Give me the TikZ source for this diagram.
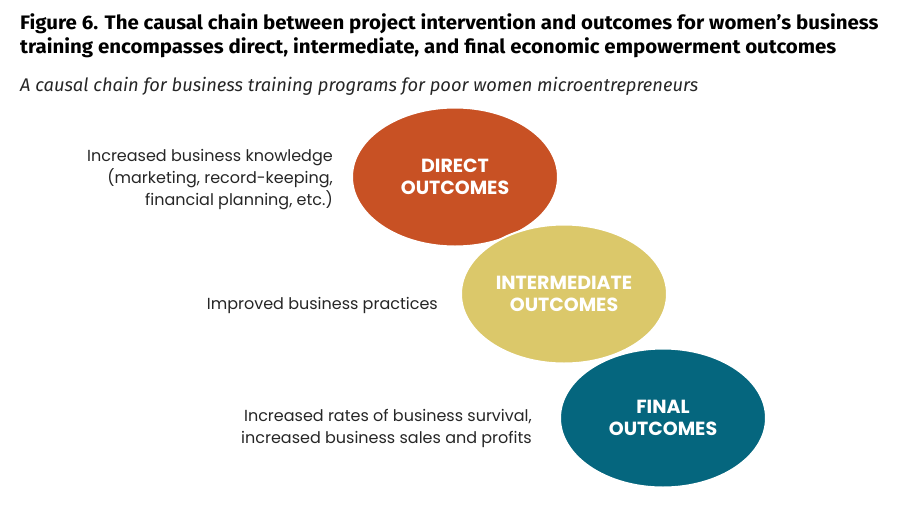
\documentclass[tikz,border=0pt]{standalone}
\usepackage{fontspec}
\setmainfont{Poppins}
\newfontfamily\titlefont[FakeStretch=1.05]{Fira Sans}
\newfontfamily\subfont{Fira Sans}
\usetikzlibrary{shapes.geometric}
\definecolor{directred}{HTML}{C85124}
\definecolor{midyellow}{HTML}{DBC86A}
\definecolor{finalteal}{HTML}{05667E}
\definecolor{textgray}{HTML}{262626}
\begin{document}
\begin{tikzpicture}[x = 1pt, y = -1pt,
	outcome/.style = {ellipse, minimum width = 206pt, minimum height = 139pt, inner sep = 0pt, draw = white, line width = 2pt, text = white, align = center, font = \fontsize{19}{22.5}\selectfont\bfseries},
	effect/.style = {inner sep = 0pt, text = textgray, align = right, font = \fontsize{16}{22}\selectfont}]
	\useasboundingbox[fill = white] (0,0) rectangle (900,520);
	\node[anchor = north west, inner sep = 0pt, align = left, font = \titlefont\bfseries\fontsize{19.5}{24.5}\selectfont] (title) at (20,13) {Figure 6. The causal chain between project intervention and outcomes for women’s business\\training encompasses direct, intermediate, and final economic empowerment outcomes};
	\node[anchor = north west, inner sep = 0pt, text = textgray, font = \subfont\itshape\fontsize{18.3}{20}\selectfont] (subtitle) at (20,77) {A causal chain for business training programs for poor women microentrepreneurs};
	\node[outcome, fill = directred] (direct) at (455,177) {DIRECT\\OUTCOMES};
	\node[outcome, fill = midyellow] (intermediate) at (564,294) {INTERMEDIATE\\OUTCOMES};
	\node[outcome, fill = finalteal] (final) at (663,418) {FINAL\\OUTCOMES};
	\node[effect, anchor = east] (knowledge) at (333,180) {Increased business knowledge\\(marketing, record-keeping,\\financial planning, etc.)};
	\node[effect, anchor = east] (practices) at (438,305) {Improved business practices};
	\node[effect, anchor = east] (profits) at (532,428) {Increased rates of business survival,\\increased business sales and profits};
\end{tikzpicture}
\end{document}
